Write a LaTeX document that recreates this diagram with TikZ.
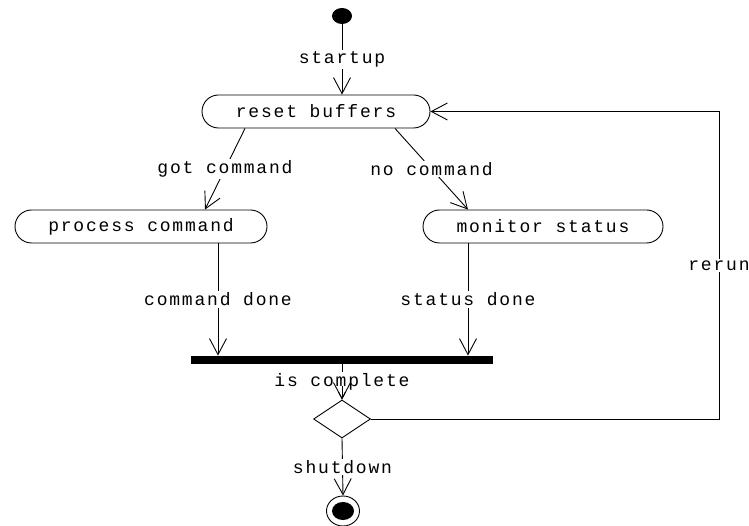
\documentclass[tikz,border=0pt]{standalone}
\usepackage{fontspec}
\newfontfamily\diafont[LetterSpace=10]{Liberation Mono}
\usetikzlibrary{arrows.meta,shapes.geometric,shapes.misc}
\begin{document}
\begin{tikzpicture}[x=1pt,y=-1pt,
  line width=0.9pt,
  font=\diafont\fontsize{18}{20}\selectfont,
  every node/.style={inner sep=0pt},
  act/.style={draw,rounded rectangle,minimum height=33pt},
  lbl/.style={fill=white,inner sep=1.5pt},
  arr/.style={-{Straight Barb[length=16pt,width=17pt,line width=0.9pt]}},
]
\useasboundingbox (0,0) rectangle (749,526);

% states
\node[ellipse,fill=black,minimum width=20pt,minimum height=16pt] (start) at (342,16) {};
\node[act,minimum width=228pt] (reset) at (316,111.5) {reset buffers};
\node[act,minimum width=252pt] (proc) at (141,226.5) {process command};
\node[act,minimum width=240pt] (mon) at (543,226.5) {monitor status};
\node[rectangle,fill=black,minimum width=302pt,minimum height=8pt] (bar) at (342,360) {};
\node[diamond,draw,minimum width=57pt,minimum height=38pt,aspect=1.5] (dec) at (342,419) {};
\node[ellipse,draw,minimum width=33pt,minimum height=30pt] (end) at (343,511) {};
\node[ellipse,fill=black,minimum width=22pt,minimum height=18pt] (endin) at (343,511) {};

\coordinate (c1) at (719,419);
\coordinate (c2) at (719,111.5);

% transitions
\draw[arr] (start) -- node[lbl] {startup} (reset.north -| start);
\draw[arr] ([xshift=-71pt]reset.south) -- node[lbl] {got command} ([xshift=64pt]proc.north);
\draw[arr] ([xshift=79pt]reset.south) -- node[lbl] {no command} ([xshift=-75pt]mon.north);
\draw[arr] ([xshift=77pt]proc.south) -- node[lbl] {command done} ([xshift=77pt]proc.south |- bar.north);
\draw[arr] ([xshift=-75pt]mon.south) -- node[lbl] {status done} ([xshift=-75pt]mon.south |- bar.north);
\draw[arr] (bar.south) -- node[lbl] {is complete} (dec.north);
% the arrowhead sits over the lower edge of its label
\draw[arr] ([yshift=14pt]dec.north) -- (dec.north);
\draw[arr] (dec.south) -- node[lbl] {shutdown} (end.north);
\draw[arr] (dec.east) -- (c1) -- node[lbl] {rerun} (c2) -- (reset.east);
\end{tikzpicture}
\end{document}
